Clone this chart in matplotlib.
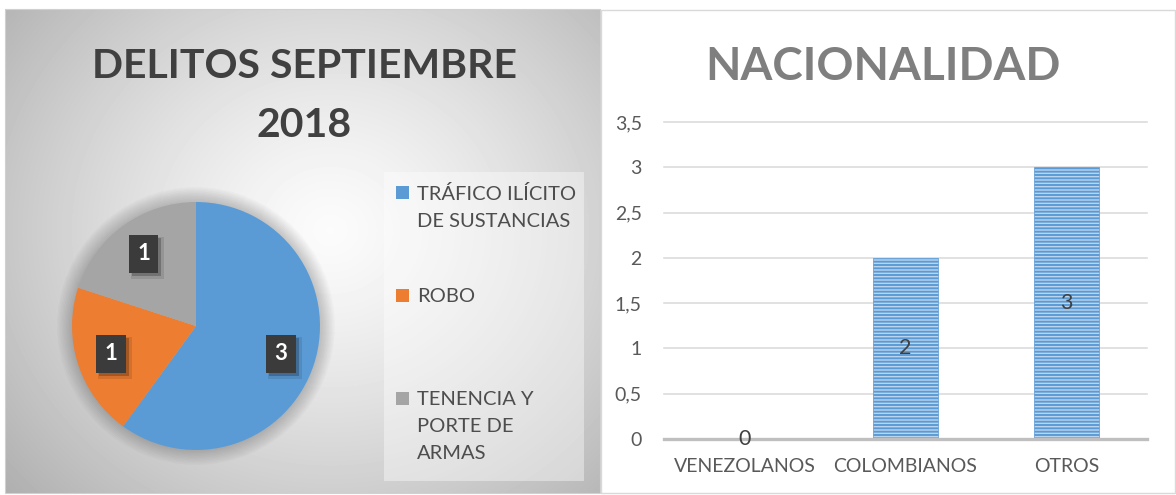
import numpy as np
import matplotlib
matplotlib.use("Agg")
import matplotlib.pyplot as plt
from matplotlib.patches import Rectangle, Circle
from matplotlib.ticker import FuncFormatter

# --------------------------------------------------------------------------- #
# Data
# --------------------------------------------------------------------------- #
delitos = ["TRÁFICO ILÍCITO\nDE SUSTANCIAS", "ROBO", "TENENCIA Y\nPORTE DE\nARMAS"]
delitos_n = [3, 1, 1]
delitos_colors = ["#5b9bd5", "#ed7d31", "#a5a5a5"]

nacionalidad = ["VENEZOLANOS", "COLOMBIANOS", "OTROS"]
nacionalidad_n = [0, 2, 3]
y_ticks = [0, 0.5, 1, 1.5, 2, 2.5, 3, 3.5]

# --------------------------------------------------------------------------- #
# Styling
# --------------------------------------------------------------------------- #
W, H, DPI = 1176, 495, 100
DARK = "#404040"
GREY_TXT = "#595959"
plt.rcParams["font.family"] = ["Lato", "DejaVu Sans"]
plt.rcParams["hatch.linewidth"] = 1.4


def px(x0, y0, x1, y1):
    """pixel box (origin top-left) -> figure-fraction rect"""
    return [x0 / W, 1 - y1 / H, (x1 - x0) / W, (y1 - y0) / H]


fig = plt.figure(figsize=(W / DPI, H / DPI), dpi=DPI)
fig.patch.set_facecolor("white")

# background layer in pixel coordinates
bg = fig.add_axes([0, 0, 1, 1], zorder=0)
bg.axis("off")

# left panel: radial grey gradient
lx0, ly0, lx1, ly1 = 5, 9, 600, 493
yy, xx = np.mgrid[ly0:ly1, lx0:lx1]
r = np.hypot((xx - 330) / 330, (yy - 230) / 300)
shade = np.clip(0.985 - 0.21 * r ** 1.3, 0, 1)
bg.imshow(shade, cmap="gray", vmin=0, vmax=1, extent=(lx0, lx1, ly1, ly0),
          aspect="auto", interpolation="bilinear")
bg.add_patch(Rectangle((lx0, ly0), lx1 - lx0, ly1 - ly0, fill=False,
                       ec="#d0d0d0", lw=0.8))

# right panel: white card
bg.add_patch(Rectangle((601, 10), 574, 483, fc="white", ec="#d9d9d9", lw=1))

# legend box (slightly lighter)
bg.add_patch(Rectangle((384, 172), 200, 309, fc="white", ec="none", alpha=0.4))
bg.set_xlim(0, W)
bg.set_ylim(H, 0)

# titles
bg.text(304, 96, "DELITOS SEPTIEMBRE\n2018", ha="center", va="center",
        fontsize=29.5, fontweight="bold", color=DARK, linespacing=1.72)
bg.text(883, 80, "NACIONALIDAD", ha="center", va="baseline",
        fontsize=33, fontweight="bold", color="#7f7f7f")

# legend (marker aligned with first text line, like Excel)
for i, (lab, col) in enumerate(zip(delitos, delitos_colors)):
    top = 186 + 103 * i
    bg.add_patch(Rectangle((396, top), 13, 13, fc=col, ec="none"))
    bg.text(417, top - 1, lab, ha="left", va="top", fontsize=14.5,
            color="#4d4d4d", linespacing=1.7)

# --------------------------------------------------------------------------- #
# Pie
# --------------------------------------------------------------------------- #
pie_ax = fig.add_axes(px(72, 202, 320, 450), zorder=2)
pie_ax.patch.set_alpha(0)
for k in range(1, 11):
    pie_ax.add_patch(Circle((0, 0), 1 + 0.012 * k, color="black", alpha=0.02,
                            lw=0, zorder=0, clip_on=False))

total = sum(delitos_n)
wedges, _, autotexts = pie_ax.pie(
    delitos_n, colors=delitos_colors, startangle=90, counterclock=False,
    autopct=lambda p: f"{p * total / 100:.0f}", pctdistance=0.72,
    wedgeprops=dict(lw=0, zorder=1))
pie_ax.set_xlim(-1, 1)
pie_ax.set_ylim(-1, 1)
pie_ax.axis("off")

for t in autotexts:
    t.set(color="white", fontweight="bold", fontsize=16, zorder=5)
    t.set_bbox(dict(boxstyle="square,pad=0.38", fc="#3b3b3b", ec="none"))

# soft drop shadow under the label boxes
fig.canvas.draw()
renderer = fig.canvas.get_renderer()
inv = pie_ax.transData.inverted()
for t in autotexts:
    bb = t.get_bbox_patch().get_window_extent(renderer)
    for off, grow, a in [(3, 0, 0.22), (4, 2, 0.10)]:
        (x0, y0), (x1, y1) = inv.transform([(bb.x0 + off - grow, bb.y0 - off - grow),
                                            (bb.x1 + off + grow, bb.y1 - off + grow)])
        pie_ax.add_patch(Rectangle((x0, y0), x1 - x0, y1 - y0, fc="black",
                                   ec="none", alpha=a, zorder=4))

# --------------------------------------------------------------------------- #
# Bars
# --------------------------------------------------------------------------- #
bar_ax = fig.add_axes(px(664, 122, 1147, 439), zorder=2)
bar_ax.patch.set_alpha(0)
x = np.arange(len(nacionalidad))
bars = bar_ax.bar(x, nacionalidad_n, width=0.4, color="#bcd5ee",
                  edgecolor="#5b9bd5", hatch="-----", lw=0.5, zorder=2)
bar_ax.bar_label(bars, labels=[str(v) for v in nacionalidad_n],
                 label_type="center", fontsize=15.5, color=DARK, zorder=5)
bar_ax.set_xlim(-0.5, 2.5)
bar_ax.set_ylim(0, 3.5)
bar_ax.set_yticks(y_ticks)
bar_ax.yaxis.set_major_formatter(
    FuncFormatter(lambda v, _: f"{v:g}".replace(".", ",")))
bar_ax.set_xticks(x, nacionalidad)
bar_ax.grid(axis="y", color="#d9d9d9", lw=1.1)
for gl in bar_ax.get_ygridlines():
    gl.set_clip_on(False)
bar_ax.set_axisbelow(True)
bar_ax.axhline(0, color="#bfbfbf", lw=2.4, zorder=3, clip_on=False)
for s in bar_ax.spines.values():
    s.set_visible(False)
bar_ax.tick_params(axis="y", length=0, labelsize=14, colors=GREY_TXT, pad=16)
bar_ax.tick_params(axis="x", length=0, labelsize=14, colors=GREY_TXT, pad=14)

fig.savefig("out.png", dpi=DPI)
